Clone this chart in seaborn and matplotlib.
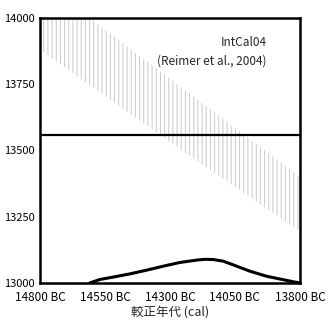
import matplotlib
matplotlib.use("Agg")
import matplotlib.pyplot as plt
import seaborn as sns
import pandas as pd

# Calibration band (IntCal04), years BC and 14C BP bounds
band_years = [14800, 14262, 13800]
band_lower = [13880, 13505, 13195]
band_upper = [14140, 13742, 13400]

# Calibrated probability distribution (years BC, height above baseline)
prob_years = [14608, 14569, 14518, 14454, 14390, 14326, 14262, 14197, 14165,
              14133, 14095, 14043, 13992, 13928, 13864, 13819, 13800]
prob_height = [0, 13, 22, 34, 48, 63, 77, 86, 89, 88, 82, 63, 44, 25, 12, 3, 0]

measured_bp = 13560

x_ticks = [14800, 14550, 14300, 14050, 13800]
x_ticklabels = ["14800 BC", "14550 BC", "14300 BC", "14050 BC", "13800 BC"]
y_ticks = [13000, 13250, 13500, 13750, 14000]
y_ticklabels = ["13000", "13250", "13500", "13750", "14000"]

sns.set_style("white")
plt.rcParams["font.family"] = ["Noto Sans CJK JP", "DejaVu Sans"]
plt.rcParams["hatch.linewidth"] = 0.7
plt.rcParams["hatch.color"] = "#c8c8c8"

fig = plt.figure(figsize=(3.31, 3.20), dpi=100)
ax = fig.add_axes([0.121, 0.116, 0.785, 0.828])

ax.fill_between(band_years, band_lower, band_upper, facecolor="none",
                edgecolor="#c8c8c8", hatch="||||", linewidth=0)

df = pd.DataFrame({"year": prob_years,
                   "c14": [13000 + h for h in prob_height]})
sns.lineplot(data=df, x="year", y="c14", ax=ax, color="black", lw=2.2)

ax.axhline(measured_bp, color="black", lw=1.6)

ax.set_xlim(14800, 13800)
ax.set_ylim(13000, 14000)
ax.set_xticks(x_ticks)
ax.set_xticklabels(x_ticklabels)
ax.set_yticks(y_ticks)
ax.set_yticklabels(y_ticklabels)
ax.tick_params(axis="both", direction="out", length=3, width=1, labelsize=8.5,
               pad=0.5, colors="black")
ax.tick_params(axis="x", pad=3)
for lab in ax.get_yticklabels():
    lab.set_fontsize(8)

for s in ax.spines.values():
    s.set_visible(True)
    s.set_color("black")
    s.set_linewidth(1.8)

ax.set_xlabel("較正年代 (cal)", fontsize=9, labelpad=2)
ax.set_ylabel("")

ax.text(0.873, 0.906, "IntCal04", transform=ax.transAxes, ha="right",
        va="center", fontsize=8.5)
ax.text(0.873, 0.838, "(Reimer et al., 2004)", transform=ax.transAxes,
        ha="right", va="center", fontsize=8.5)

fig.savefig("out.png", dpi=100)
